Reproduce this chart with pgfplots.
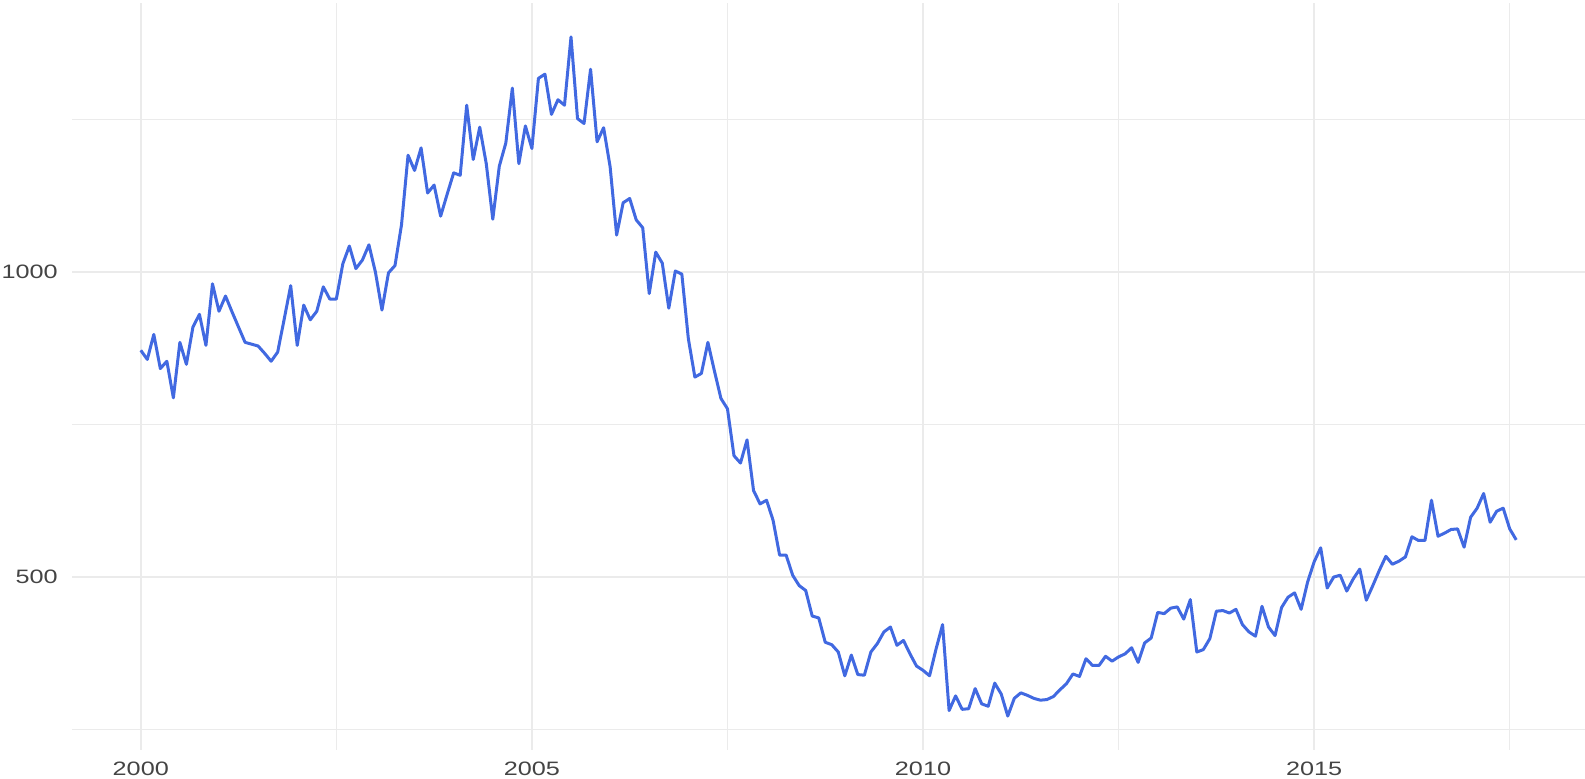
\documentclass[border=0pt]{standalone}
\usepackage{fontspec}
\setmainfont{Liberation Sans}
\usepackage{graphicx}
\usepackage{pgfplots}
\pgfplotsset{compat=1.18}
\definecolor{linec}{HTML}{4169E1}
\definecolor{gridc}{HTML}{EBEBEB}
\definecolor{textc}{HTML}{444444}
\newcommand{\wl}[1]{\scalebox{1.3}[1]{#1}}
\pgfplotstableread{
m v
0 872
1 857
2 898
3 842
4 854
5 794
6 885
7 849
8 910
9 931
10 880
11 981
12 936
13 961
14 935
15 910
16 885
17 882
18 879
19 867
20 854
21 869
22 923
23 978
24 880
25 946
26 922
27 936
28 976
29 956
30 956
31 1014
32 1043
33 1006
34 1020
35 1045
36 1000
37 938
38 999
39 1011
40 1078
41 1192
42 1167
43 1204
44 1130
45 1143
46 1092
47 1128
48 1163
49 1159
50 1274
51 1185
52 1238
53 1178
54 1087
55 1174
56 1212
57 1302
58 1178
59 1240
60 1203
61 1318
62 1325
63 1259
64 1283
65 1274
66 1386
67 1252
68 1244
69 1333
70 1214
71 1237
72 1173
73 1061
74 1114
75 1121
76 1086
77 1073
78 965
79 1033
80 1015
81 941
82 1002
83 997
84 891
85 828
86 834
87 885
88 838
89 793
90 776
91 699
92 687
93 725
94 642
95 620
96 626
97 593
98 536
99 536
100 503
101 486
102 478
103 436
104 433
105 393
106 389
107 377
108 338
109 372
110 340
111 339
112 377
113 391
114 410
115 418
116 388
117 396
118 374
119 354
120 347
121 338
122 382
123 422
124 281
125 305
126 283
127 284
128 317
129 292
130 288
131 326
132 308
133 272
134 301
135 310
136 306
137 301
138 298
139 299
140 304
141 315
142 325
143 341
144 337
145 366
146 355
147 355
148 370
149 362
150 369
151 374
152 384
153 360
154 392
155 400
156 442
157 440
158 449
159 451
160 431
161 463
162 377
163 381
164 399
165 444
166 445
167 441
168 447
169 422
170 410
171 403
172 452
173 418
174 404
175 450
176 467
177 474
178 447
179 492
180 525
181 548
182 482
183 500
184 503
185 477
186 497
187 513
188 462
189 486
190 511
191 534
192 521
193 526
194 533
195 566
196 560
197 560
198 626
199 567
200 572
201 578
202 579
203 549
204 598
205 613
206 637
207 590
208 608
209 613
210 579
211 561
}\datatable
\begin{document}
\begin{tikzpicture}
\begin{axis}[
  at={(0,0)}, anchor=south west,
  scale only axis, width=756.5pt, height=373.5pt,
  xmin=-10.55, xmax=221.55, ymin=216.3, ymax=1441.7,
  axis line style={draw=none},
  major tick length=0pt, minor tick length=0pt,
  xtick={0,60,120,180}, xticklabels={\wl{2000},\wl{2005},\wl{2010},\wl{2015}},
  minor xtick={30,90,150,210},
  ytick={500,1000}, yticklabels={\wl{500},\wl{1000}},
  minor ytick={250,750,1250},
  grid=both,
  major grid style={draw=gridc, line width=1pt},
  minor grid style={draw=gridc, line width=0.55pt},
  ticklabel style={font=\fontsize{9.7}{10}\selectfont, text=textc},
  xticklabel style={anchor=north, yshift=-2.6pt},
  yticklabel style={anchor=east, xshift=-3.6pt},
]
\addplot[linec, line width=1.5pt, line join=round, mark=none] table[x=m, y=v] {\datatable};
\end{axis}
\pgfresetboundingbox
\path[use as bounding box] (-36pt,-14.5pt) rectangle (756.5pt,375pt);
\end{tikzpicture}
\end{document}
